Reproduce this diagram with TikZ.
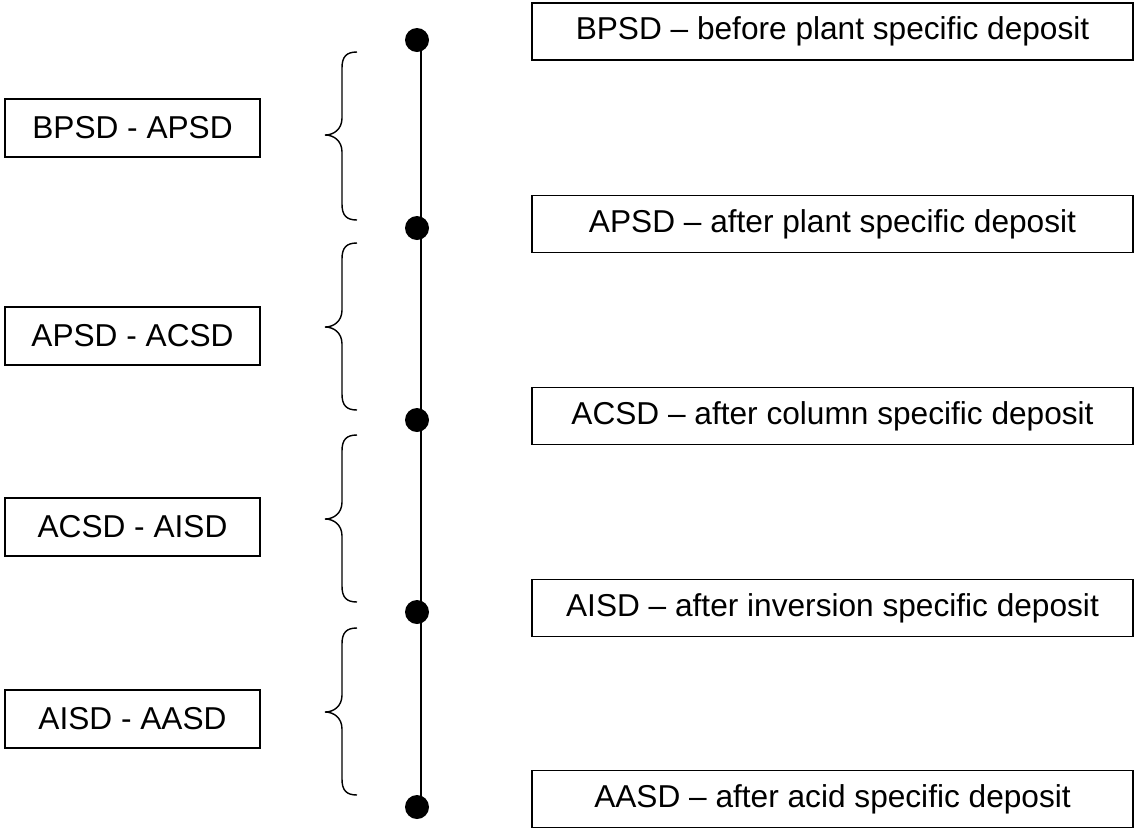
\documentclass[tikz,border=0pt]{standalone}
\usepackage{fontspec}
\setmainfont{Liberation Sans}

\begin{document}
\begin{tikzpicture}[x = 0.2mm, y = -0.2mm,
    span/.style = {draw, line width = 0.7pt, minimum width = 51mm, minimum height = 11.6mm, inner sep = 0pt, font = \fontsize{18}{22}\selectfont},
    stage/.style = {draw, line width = 0.7pt, minimum width = 120.2mm, minimum height = 11.4mm, inner sep = 0pt, font = \fontsize{18}{22}\selectfont},
    dot/.style = {circle, fill, inner sep = 0pt, minimum size = 4.8mm},
    curly/.style = {line width = 0.8pt}]
    \useasboundingbox (0,0) rectangle (1137,829);
    \coordinate (top) at (421,40);
    \coordinate (bottom) at (421,800);
    \draw[line width = 0.8pt]
    (top) -- (bottom);
    \node[dot] (bpsd) at (417,40) {};
    \node[dot] (apsd) at (417,228) {};
    \node[dot] (acsd) at (417,420) {};
    \node[dot] (aisd) at (417,612) {};
    \node[dot] (aasd) at (417,807) {};
    \node[stage] (bpsdtext) at (832.5,31.5) {BPSD -- before plant specific deposit};
    \node[stage] (apsdtext) at (832.5,224) {APSD -- after plant specific deposit};
    \node[stage] (acsdtext) at (832.5,416) {ACSD -- after column specific deposit};
    \node[stage] (aisdtext) at (832.5,608) {AISD -- after inversion specific deposit};
    \node[stage] (aasdtext) at (832.5,799) {AASD -- after acid specific deposit};
    \node[span] (bpsdapsd) at (132.5,128) {BPSD - APSD};
    \node[span] (apsdacsd) at (132.5,336) {APSD - ACSD};
    \node[span] (acsdaisd) at (132.5,527) {ACSD - AISD};
    \node[span] (aisdaasd) at (132.5,719) {AISD - AASD};
    \foreach \t/\m/\b in {52/135/220, 243/327/410, 435/519/602, 628/712/795}
    \draw[curly]
    (357,\t) .. controls (346,\t) and (342,{\t+5}) .. (342,{\t+16}) -- (342,{\m-17})
    .. controls (342,{\m-6}) and (334,\m) .. (325,\m)
    .. controls (334,\m) and (342,{\m+6}) .. (342,{\m+17}) -- (342,{\b-16})
    .. controls (342,{\b-5}) and (346,\b) .. (357,\b);
\end{tikzpicture}
\end{document}
